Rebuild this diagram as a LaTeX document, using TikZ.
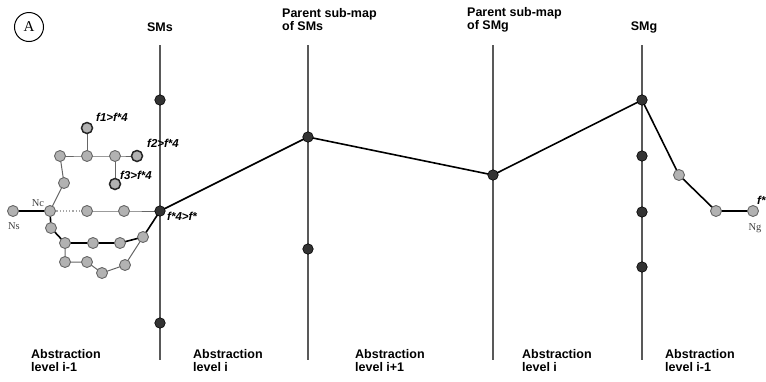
\documentclass[tikz,border=0pt]{standalone}
\usepackage{fontspec}
\setmainfont{Liberation Serif}
\setsansfont{Liberation Sans}
\begin{document}
\begin{tikzpicture}[x=1pt,y=-1pt,
  vline/.style={draw=black!65,line width=1.1pt},
  route/.style={draw=black,line width=1.6pt},
  thin/.style={draw=black!60,line width=1pt},
  dnode/.style={circle,fill=black!80,draw=black,line width=0.6pt,minimum size=10.5pt,inner sep=0pt},
  lnode/.style={circle,fill=black!30,draw=black!60,line width=0.9pt,minimum size=11pt,inner sep=0pt},
  fnode/.style={circle,fill=black!30,draw=black!85,line width=1.5pt,minimum size=11pt,inner sep=0pt},
  hdr/.style={font=\sffamily\bfseries\fontsize{12.5}{13}\selectfont,inner sep=0pt,align=left},
  flab/.style={font=\sffamily\bfseries\itshape\fontsize{11.5}{12}\selectfont,inner sep=0pt},
  nlab/.style={font=\fontsize{10.5}{11}\selectfont,text=black!75,inner sep=0pt}]
\useasboundingbox (0,0) rectangle (766,381);

% badge
\node[circle,draw=black,line width=1pt,minimum size=29pt,inner sep=0pt,font=\fontsize{15}{15}\selectfont] (badge) at (29,27) {A};

% column headers
\node[hdr] (hSMs) at (160,27) {SMs};
\node[hdr,anchor=west] (hPs) at (282,20) {Parent sub-map\\of SMs};
\node[hdr,anchor=west] (hPg) at (467,20) {Parent sub-map\\of SMg};
\node[hdr] (hSMg) at (644,27) {SMg};

% vertical lines
\coordinate (t1) at (160,45); \coordinate (b1) at (160,360);
\coordinate (t2) at (308,45); \coordinate (b2) at (308,360);
\coordinate (t3) at (493,45); \coordinate (b3) at (493,360);
\coordinate (t4) at (642,45); \coordinate (b4) at (642,360);
\draw[vline] (t1) -- (b1);
\draw[vline] (t2) -- (b2);
\draw[vline] (t3) -- (b3);
\draw[vline] (t4) -- (b4);

% level labels
\node[hdr,anchor=west] (l1) at (31,361) {Abstraction\\level i-1};
\node[hdr,anchor=west] (l2) at (193,361) {Abstraction\\level i};
\node[hdr,anchor=west] (l3) at (355,361) {Abstraction\\level i+1};
\node[hdr,anchor=west] (l4) at (522,361) {Abstraction\\level i};
\node[hdr,anchor=west] (l5) at (665,361) {Abstraction\\level i-1};

% left cluster coordinates
\coordinate (ns) at (13,211);
\coordinate (nc) at (50,211);
\coordinate (r1) at (87,211);
\coordinate (r2) at (124,211);
\coordinate (a1) at (60,156);
\coordinate (a2) at (87,156);
\coordinate (a3) at (115,156);
\coordinate (a4) at (137,156);
\coordinate (f1) at (87,128);
\coordinate (f3) at (115,184);
\coordinate (m1) at (64,183);
\coordinate (c1) at (51,228);
\coordinate (c2) at (65,243);
\coordinate (c3) at (93,243);
\coordinate (c4) at (120,243);
\coordinate (c5) at (143,237);
\coordinate (d1) at (65,262);
\coordinate (d2) at (87,262);
\coordinate (d3) at (102,273);
\coordinate (d4) at (125,265);
\coordinate (smsA) at (160,211);

\draw[thin] (a1) -- (a2) -- (a3) -- (a4);
\draw[thin] (a2) -- (f1);
\draw[thin] (a3) -- (f3);
\draw[thin] (a1) -- (m1) -- (nc);
\draw[draw=black!35,dotted,line width=1.2pt] (nc) -- (r1);
\draw[thin] (r1) -- (r2) -- (smsA);
\draw[thin] (c2) -- (d1) -- (d2) -- (d3) -- (d4) -- (c5);
\draw[route] (ns) -- (nc);
\draw[route] (nc) -- (c1) -- (c2) -- (c3) -- (c4) -- (c5) -- (smsA);

% main route
\coordinate (p1) at (308,137);
\coordinate (p2) at (493,175);
\coordinate (p3) at (642,100);
\coordinate (g1) at (679,175);
\coordinate (g2) at (716,211);
\coordinate (g3) at (753,211);
\draw[route] (smsA) -- (p1) -- (p2) -- (p3) -- (g1) -- (g2) -- (g3);

% cluster nodes
\foreach \n in {ns,nc,r1,r2,a1,a2,a3,m1,c1,c2,c3,c4,c5,d1,d2,d3,d4,g1,g2,g3}
  \node[lnode] (N\n) at (\n) {};
\foreach \n in {f1,a4,f3}
  \node[fnode] (N\n) at (\n) {};

% dark nodes on lines
\node[dnode] (s1) at (160,100) {};
\node[dnode] (s2) at (smsA) {};
\node[dnode] (s3) at (160,323) {};
\node[dnode] (q1) at (p1) {};
\node[dnode] (q2) at (308,249) {};
\node[dnode] (q3) at (p2) {};
\node[dnode] (g0) at (p3) {};
\node[dnode] (gA) at (642,156) {};
\node[dnode] (gB) at (642,212) {};
\node[dnode] (gC) at (642,267) {};

% labels
\node[flab,anchor=west] (lf1) at (96,117) {f1>f*4};
\node[flab,anchor=west] (lf2) at (147,143) {f2>f*4};
\node[flab,anchor=west] (lf3) at (120,175) {f3>f*4};
\node[flab,anchor=west] (lf4) at (167,216) {f*4>f*};
\node[flab,anchor=west] (lf5) at (757,200) {f*};
\node[nlab] (lns) at (14,226) {Ns};
\node[nlab] (lnc) at (38,203) {Nc};
\node[nlab] (lng) at (755,228) {Ng};
\end{tikzpicture}
\end{document}
